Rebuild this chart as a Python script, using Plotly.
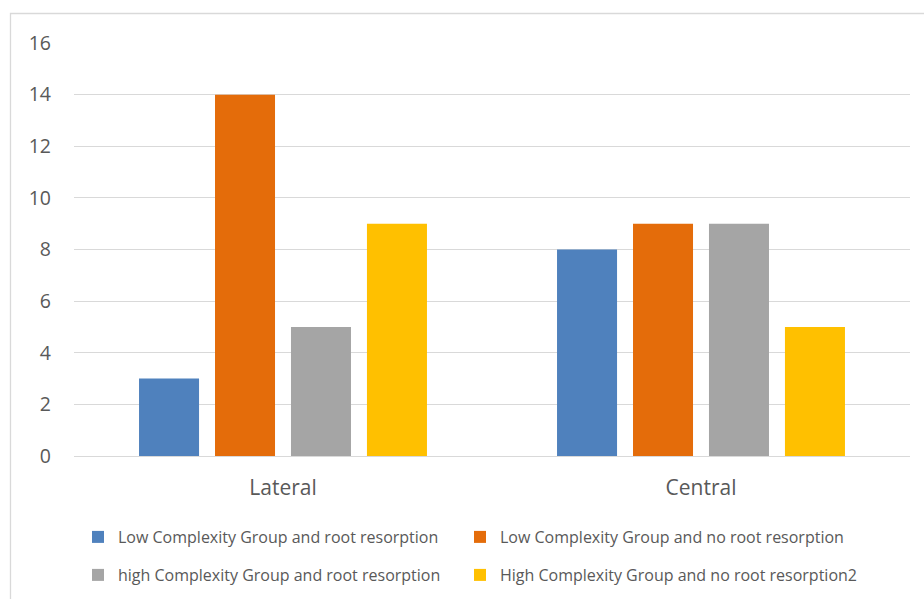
import plotly.graph_objects as go

categories = ["Lateral", "Central"]
series_names = [
    "Low Complexity Group and root resorption",
    "Low Complexity Group and no root resorption",
    "high Complexity Group and root resorption",
    "High Complexity Group and no root resorption2",
]
values = [
    [3, 8],
    [14, 9],
    [5, 9],
    [9, 5],
]
colors = ["#4F81BD", "#E46C0A", "#A5A5A5", "#FFC000"]
legend_ids = ["legend", "legend2", "legend3", "legend4"]

FONT = "Open Sans"
fig = go.Figure()
for name, vals, col, lg in zip(series_names, values, colors, legend_ids):
    fig.add_trace(go.Bar(x=categories, y=vals, name=name, marker_color=col,
                         marker_line_width=0, legend=lg))

W, H = 924, 599
ml, mr, mt, mb = 74, 14, 43, 143
pw, ph = W - ml - mr, H - mt - mb

def px(x):
    return (x - ml) / pw

def py(y):
    return (H - mb - y) / ph

leg_common = dict(orientation="h", xanchor="left", yanchor="middle",
                  xref="container", yref="container",
                  font=dict(family=FONT, size=16, color="#595959"),
                  bgcolor="rgba(0,0,0,0)", itemclick=False)

col_x = [78, 460]
row_y = [537, 575]

fig.update_layout(
    width=W, height=H,
    margin=dict(l=ml, r=mr, t=mt, b=mb, autoexpand=False),
    paper_bgcolor="white", plot_bgcolor="white",
    barmode="group", bargap=0.273, bargroupgap=0.21,
    font=dict(family=FONT, color="#595959"),
    showlegend=True,
    legend=dict(x=col_x[0] / W, y=1 - row_y[0] / H, **leg_common),
    legend2=dict(x=col_x[1] / W, y=1 - row_y[0] / H, **leg_common),
    legend3=dict(x=col_x[0] / W, y=1 - row_y[1] / H, **leg_common),
    legend4=dict(x=col_x[1] / W, y=1 - row_y[1] / H, **leg_common),
    xaxis=dict(showgrid=False, showline=False, ticks="", zeroline=False,
               tickfont=dict(family=FONT, size=21, color="#595959"),
               ticklabelstandoff=17),
    yaxis=dict(range=[0, 16], dtick=2, showgrid=True, gridcolor="#D9D9D9",
               gridwidth=1.3, zeroline=True, zerolinecolor="#D9D9D9", zerolinewidth=1.3,
               showline=False, ticks="",
               tickfont=dict(family=FONT, size=19.5, color="#595959"),
               ticklabelstandoff=22),
    shapes=[dict(type="rect", xref="paper", yref="paper",
                 x0=px(10.5), x1=px(940), y0=py(620), y1=py(13.5),
                 line=dict(color="#D9D9D9", width=1.3), fillcolor="rgba(0,0,0,0)",
                 layer="below")],
)

fig.write_html("out.html")
